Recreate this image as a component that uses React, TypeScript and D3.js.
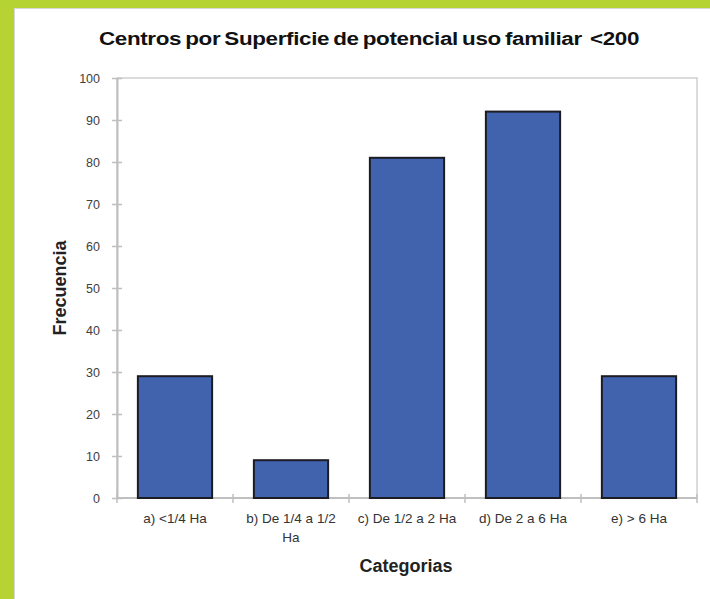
import React, { useRef, useEffect } from "react";
import * as d3 from "d3";

const categories = ["a) <1/4 Ha", "b) De 1/4 a 1/2 Ha", "c) De 1/2 a 2 Ha", "d) De 2 a 6 Ha", "e) > 6 Ha"];
const frecuencia = [29, 9, 81, 92, 29];
const yTicks = [0, 10, 20, 30, 40, 50, 60, 70, 80, 90, 100];

export default function App() {
    const ref = useRef<SVGSVGElement | null>(null);

    useEffect(() => {
        if (!ref.current) return;
        const width = 710;
        const height = 599;
        const margin = { top: 78, right: 13, bottom: 101, left: 117 };
        const font = "Liberation Sans, Arial, sans-serif";

        const svg = d3.select(ref.current);
        svg.selectAll("*").remove();

        // green frame (top and left only)
        svg.append("rect").attr("x", 0).attr("y", 0).attr("width", width).attr("height", height).attr("fill", "#b6d334");
        svg.append("rect").attr("x", 14).attr("y", 8).attr("width", width - 14).attr("height", height - 8).attr("fill", "#fff");
        svg.append("line").attr("x1", 14).attr("x2", width).attr("y1", 8.5).attr("y2", 8.5).attr("stroke", "#d8d8d8");
        svg.append("line").attr("x1", 14.5).attr("x2", 14.5).attr("y1", 8).attr("y2", height).attr("stroke", "#d8d8d8");

        const x = d3.scaleBand()
            .domain(categories)
            .range([margin.left, width - margin.right])
            .paddingInner(0.36)
            .paddingOuter(0.18);

        const xBand = d3.scaleBand()
            .domain(categories)
            .range([margin.left, width - margin.right]);

        const y = d3.scaleLinear()
            .domain([0, 100])
            .range([height - margin.bottom, margin.top]);

        // plot box
        svg.append("rect")
            .attr("x", margin.left)
            .attr("y", margin.top)
            .attr("width", width - margin.right - margin.left)
            .attr("height", y(0) - margin.top)
            .attr("fill", "none")
            .attr("stroke", "#d0d0d0")
            .attr("stroke-width", 1.5);

        // y axis
        const yAxis = svg.append("g")
            .attr("transform", `translate(${margin.left},0)`)
            .call(d3.axisLeft(y).tickValues(yTicks).tickSize(5).tickPadding(12).tickSizeOuter(0));
        yAxis.select(".domain").attr("stroke", "#bfbfbf").attr("stroke-width", 2);
        yAxis.selectAll(".tick line").attr("stroke", "#bfbfbf").attr("stroke-width", 1.5).attr("x2", -5).attr("x1", 5);
        yAxis.selectAll(".tick text")
            .attr("fill", "#404040")
            .attr("font-family", font)
            .attr("font-size", 12.5);

        // x axis boundaries
        const xAxis = svg.append("g").attr("transform", `translate(0,${y(0)})`);
        xAxis.append("line")
            .attr("x1", margin.left).attr("x2", width - margin.right)
            .attr("stroke", "#bfbfbf").attr("stroke-width", 2);
        const bounds = categories.map(c => xBand(c) as number).concat([width - margin.right]);
        xAxis.selectAll("line.tk")
            .data(bounds)
            .join("line")
            .attr("class", "tk")
            .attr("x1", d => d).attr("x2", d => d)
            .attr("y1", -4).attr("y2", 5)
            .attr("stroke", "#bfbfbf").attr("stroke-width", 1.5);

        // x tick labels
        const labels = svg.append("g")
            .attr("fill", "#333")
            .attr("font-family", font)
            .attr("font-size", 13.5)
            .attr("text-anchor", "middle");
        categories.forEach(c => {
            const cx = (xBand(c) as number) + xBand.bandwidth() / 2;
            const t = labels.append("text").attr("x", cx).attr("y", 523);
            if (c === "b) De 1/4 a 1/2 Ha") {
                t.append("tspan").attr("x", cx).text("b) De 1/4 a 1/2");
                t.append("tspan").attr("x", cx).attr("dy", 19).text("Ha");
            } else {
                t.text(c);
            }
        });

        // bars
        svg.append("g")
            .selectAll("rect")
            .data(frecuencia)
            .join("rect")
            .attr("x", (d, i) => x(categories[i]) as number)
            .attr("y", d => y(d))
            .attr("width", x.bandwidth())
            .attr("height", d => y(0) - y(d))
            .attr("fill", "#4163ae")
            .attr("stroke", "#1c1c24")
            .attr("stroke-width", 2);

        // title, stretched a bit wider like the original
        svg.append("text")
            .attr("transform", "translate(369,45) scale(1.18,1)")
            .attr("text-anchor", "middle")
            .attr("font-family", font)
            .attr("font-weight", "bold")
            .attr("font-size", 19)
            .attr("letter-spacing", -0.3)
            .attr("word-spacing", -1.5)
            .attr("fill", "#111")
            .style("white-space", "pre")
            .text("Centros por Superficie de potencial uso familiar  <200");

        svg.append("text")
            .attr("transform", `translate(66,288) rotate(-90)`)
            .attr("text-anchor", "middle")
            .attr("font-family", font)
            .attr("font-weight", "bold")
            .attr("font-size", 18)
            .attr("fill", "#222")
            .text("Frecuencia");

        svg.append("text")
            .attr("x", 406).attr("y", 572)
            .attr("text-anchor", "middle")
            .attr("font-family", font)
            .attr("font-weight", "bold")
            .attr("font-size", 18)
            .attr("fill", "#222")
            .text("Categorias");
    }, []);

    return (
        <svg ref={ref} width={710} height={599}
            style={{ position: "absolute", left: 0, top: 0, display: "block" }} />
    );
}
